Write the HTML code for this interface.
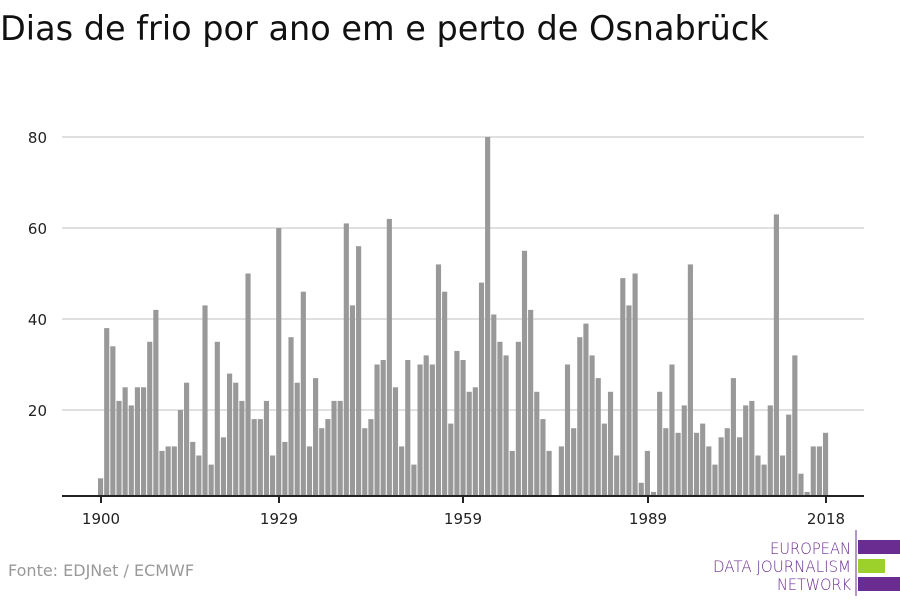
<!DOCTYPE html>
<html><head><meta charset="utf-8"><style>
body{margin:0;width:900px;height:600px;background:#fff;overflow:hidden;font-family:"Liberation Sans",sans-serif}
</style></head><body>
<svg id="s" width="900" height="600" xmlns="http://www.w3.org/2000/svg">
<text x="0" y="40" font-size="33.5" fill="#111" font-family="DejaVu Sans, Liberation Sans, sans-serif">Dias de frio por ano em e perto de Osnabrück</text>
<g stroke="#e0e0e0" stroke-width="2">
<line x1="62" x2="864" y1="137" y2="137"/><line x1="62" x2="864" y1="228" y2="228"/>
<line x1="62" x2="864" y1="319" y2="319"/><line x1="62" x2="864" y1="410" y2="410"/></g>
<g font-size="15" fill="#222" text-anchor="end" font-family="DejaVu Sans, Liberation Sans, sans-serif">
<text x="47" y="143">80</text><text x="47" y="234">60</text><text x="47" y="325">40</text><text x="47" y="416">20</text></g>
<g id="bars" fill="#999"></g>
<line x1="62" x2="864" y1="496" y2="496" stroke="#222" stroke-width="2"/>
<g stroke="#222" stroke-width="2"><line x1="101" x2="101" y1="496" y2="503"/><line x1="279" x2="279" y1="496" y2="503"/><line x1="463" x2="463" y1="496" y2="503"/><line x1="648" x2="648" y1="496" y2="503"/><line x1="826" x2="826" y1="496" y2="503"/></g>
<g font-size="15" fill="#222" text-anchor="middle" font-family="DejaVu Sans, Liberation Sans, sans-serif">
<text x="101" y="524">1900</text><text x="279" y="524">1929</text><text x="463" y="524">1959</text><text x="648" y="524">1989</text><text x="826" y="524">2018</text></g>
<text x="8" y="576" font-size="16" fill="#999" font-family="DejaVu Sans, Liberation Sans, sans-serif">Fonte: EDJNet / ECMWF</text>
<line x1="856" x2="856" y1="530" y2="596" stroke="#6a2c91" stroke-width="1"/>
<g font-size="16" fill="#6a2c91" font-family="DejaVu Sans, Liberation Sans, sans-serif" font-weight="300">
<text x="770" y="554" textLength="81" lengthAdjust="spacingAndGlyphs">EUROPEAN</text>
<text x="713" y="572" textLength="138" lengthAdjust="spacingAndGlyphs">DATA JOURNALISM</text>
<text x="777" y="590" textLength="74" lengthAdjust="spacingAndGlyphs">NETWORK</text></g>
<rect x="858" y="540" width="42" height="14" fill="#6a2c91"/>
<rect x="858" y="559" width="27" height="14" fill="#9bd12a"/>
<rect x="858" y="577" width="42" height="14" fill="#6a2c91"/>
</svg>
<script>
var v=[5,38,34,22,25,21,25,25,35,42,11,12,12,20,26,13,10,43,8,35,14,28,26,22,50,18,18,22,10,60,13,36,26,46,12,27,16,18,22,22,61,43,56,16,18,30,31,62,25,12,31,8,30,32,30,52,46,17,33,31,24,25,48,80,41,35,32,11,35,55,42,24,18,11,0,12,30,16,36,39,32,27,17,24,10,49,43,50,4,11,2,24,16,30,15,21,52,15,17,12,8,14,16,27,14,21,22,10,8,21,63,10,19,32,6,2,12,12,15];
var g=document.getElementById('bars'),h='',st=6.144;
for(var i=0;i<v.length;i++){if(!v[i])continue;var y=501-4.55*v[i];var x=98+i*st;h+='<rect x="'+x.toFixed(2)+'" y="'+y.toFixed(1)+'" width="'+(st-1).toFixed(2)+'" height="'+(496-y).toFixed(1)+'"/>';}
g.innerHTML=h;
</script>
</body></html>
